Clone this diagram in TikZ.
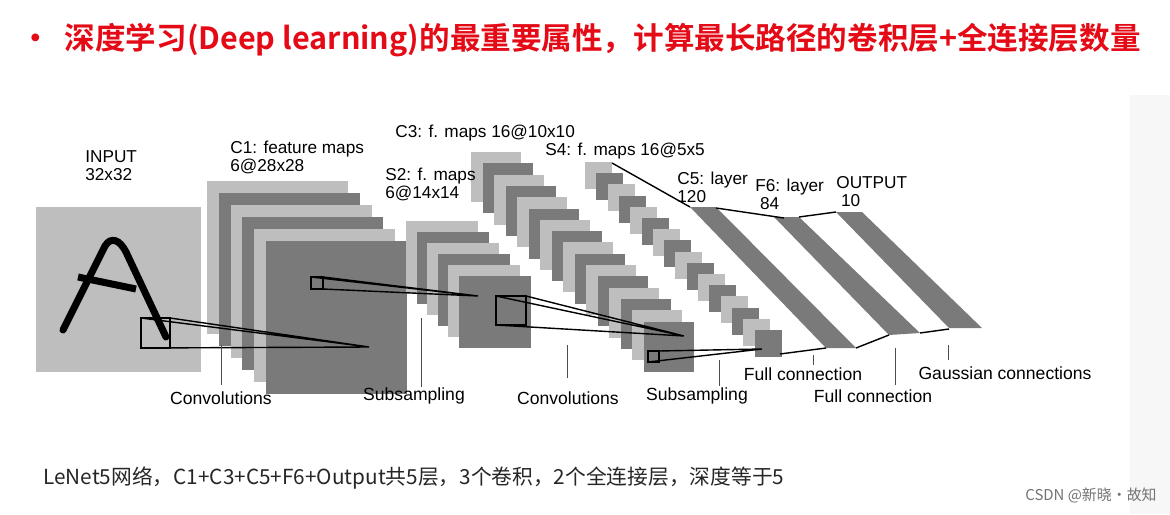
\documentclass[tikz,border=0pt]{standalone}
\usepackage{fontspec}
\setmainfont{Liberation Sans}
\newfontfamily\cjk{Noto Sans CJK SC}
\newfontfamily\cjkbold{Noto Sans CJK SC Bold}
\usetikzlibrary{positioning}
\definecolor{titlered}{RGB}{228,10,22}
\definecolor{mapLight}{RGB}{190,190,190}
\definecolor{mapDark}{RGB}{122,122,122}

\begin{document}
\begin{tikzpicture}[x=0.02cm,y=-0.02cm]
	\tikzstyle{map0} = [fill=mapLight]
	\tikzstyle{map1} = [fill=mapDark]
	\tikzstyle{lbl} = [anchor=north west, align=left, inner sep=0pt, font=\fontsize{9.8}{10.2}\selectfont]
	\tikzstyle{stage} = [anchor=center, inner sep=0pt, font=\fontsize{10}{11}\selectfont]
	\tikzstyle{tick} = [draw=black!70, line width=0.4pt]
	\tikzstyle{field} = [draw=black, line width=0.8pt]
	\useasboundingbox (0,0) rectangle (1170,514);
	\fill[white] (0,0) rectangle (1170,514);
	\fill[black!3] (1130,95) rectangle (1170,514);
	% title and notes
	\node (title) [anchor=west, inner sep=0pt, text=titlered] at (20,40)
	{\cjkbold\fontsize{17.4}{20}\selectfont •\ \ 深度学习(Deep learning)的最重要属性，计算最长路径的卷积层+全连接层数量};
	\node (note) [anchor=west, inner sep=0pt, text=black!85] at (43,478)
	{\cjk\fontsize{11.8}{14}\selectfont LeNet5网络，C1+C3+C5+F6+Output共5层，3个卷积，2个全连接层，深度等于5};
	\node (mark) [anchor=east, inner sep=0pt, text=black!55] at (1157,495)
	{\cjk\fontsize{8.5}{10}\selectfont CSDN @新晓·故知};
	% input
	\fill[mapLight] (36,207) rectangle (201,372);
	\draw[line width=4pt, line cap=round] (63,330) -- (105,246) .. controls (111,236) and (120,240) .. (126,252) -- (166,337);
	\draw[line width=4pt] (78,277) -- (136,289);
	\node (input) [lbl] at (85,150) {INPUT\\32x32};
	% feature map stacks
	\foreach \i [evaluate=\i as \s using {int(mod(\i,2))}] in {0,...,5}
		\fill[map\s] ({207+11.8*\i},{181+12*\i}) rectangle +(141,153);
	\foreach \i [evaluate=\i as \s using {int(mod(\i,2))}] in {0,...,5}
		\fill[map\s] ({406+10.6*\i},{221+11*\i}) rectangle +(72,72);
	\foreach \i [evaluate=\i as \s using {int(mod(\i,2))}] in {0,...,15}
		\fill[map\s] ({471+11.5*\i},{152+11.3*\i}) rectangle +(50,50);
	\foreach \i [evaluate=\i as \s using {int(mod(\i,2))}] in {0,...,15}
		\fill[map\s] ({585+11.3*\i},{162+11.2*\i}) rectangle +(27,27);
	\node (c1) [lbl] at (230,141) {C1: feature maps\\6@28x28};
	\node (s2) [lbl] at (385,168) {S2: f. maps\\6@14x14};
	\node (c3) [lbl] at (395,125) {C3: f. maps 16@10x10};
	\node (s4) [lbl] at (545,143) {S4: f. maps 16@5x5};
	% full layers
	\fill[mapDark] (690,207) -- (716,207) -- (856,348) -- (826,348) -- cycle;
	\fill[mapDark] (774,217) -- (799,217) -- (920,333) -- (889,335) -- cycle;
	\fill[mapDark] (836,212) -- (862,212) -- (982,328) -- (949,328) -- cycle;
	\node (c5) [lbl] at (677,172) {C5: layer\\120};
	\node (f6) [lbl] at (755,179) {F6: layer\\\ 84};
	\node (out) [lbl] at (836,176) {OUTPUT\\\ 10};
	\coordinate (s4tip) at (612,163);
	\coordinate (c5tl) at (690,207);
	\coordinate (c5tr) at (716,208);
	\coordinate (f6tl) at (784,218);
	\coordinate (f6tr) at (799,217);
	\coordinate (outtl) at (836,212);
	\coordinate (s4br) at (780,354);
	\coordinate (c5bl) at (826,348);
	\coordinate (c5br) at (856,348);
	\coordinate (f6bl) at (889,335);
	\coordinate (f6br) at (920,333);
	\coordinate (outbl) at (949,329);
	\draw[field] (s4tip) -- (c5tl);
	\draw[field] (c5tr) -- (f6tl);
	\draw[field] (f6tr) -- (outtl);
	\draw[field] (s4br) -- (c5bl);
	\draw[field] (c5br) -- (f6bl);
	\draw[field] (f6br) -- (outbl);
	% receptive fields
	\draw[field] (141,318) rectangle (170,348);
	\coordinate (p1) at (369,347);
	\draw[field] (141,318) -- (p1) (170,318) -- (p1) (141,348) -- (p1);
	\draw[field] (311,277) rectangle (323,289);
	\coordinate (p2) at (478,296);
	\draw[field] (311,277) -- (p2) (323,277) -- (p2) (323,289) -- (p2);
	\draw[field] (496,296) rectangle (526,325);
	\coordinate (p3) at (684,336);
	\draw[field] (496,296) -- (p3) (526,296) -- (p3) (496,325) -- (p3);
	\draw[field] (648,351) rectangle (659,362);
	\coordinate (p4) at (762,349);
	\draw[field] (648,362) -- (p4) (659,351) -- (p4);
	% captions
	\node (conv1) [stage] at (221,398) {Convolutions};
	\node (sub1) [stage] at (414,396) {Subsampling};
	\node (conv2) [stage] at (568,398) {Convolutions};
	\node (sub2) [stage] at (697,396) {Subsampling};
	\node (full1) [stage] at (803,374) {Full connection};
	\node (full2) [stage] at (873,396) {Full connection};
	\node (gauss) [stage] at (1005,373) {Gaussian connections};
	\draw[tick] (221,345) -- (221,385);
	\draw[tick] (421,318) -- (421,387);
	\draw[tick] (567,345) -- (567,378);
	\draw[tick] (719,360) -- (719,386);
	\draw[tick] (813,355) -- (813,365);
	\draw[tick] (895,348) -- (895,385);
	\draw[tick] (948,345) -- (948,360);
\end{tikzpicture}
\end{document}
